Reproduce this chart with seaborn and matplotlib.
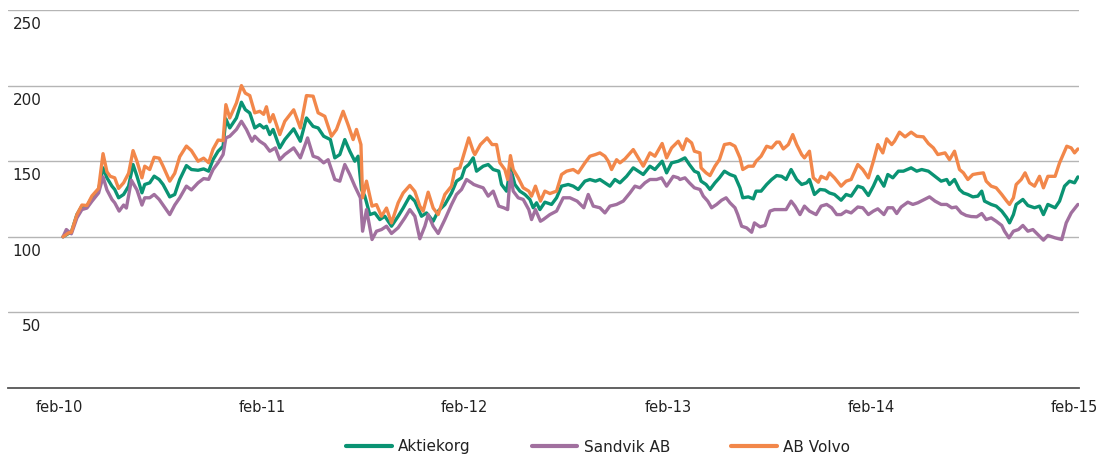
import numpy as np
import pandas as pd
import matplotlib
matplotlib.use("Agg")
import matplotlib.pyplot as plt
import seaborn as sns
from matplotlib.transforms import ScaledTranslation

START = "2010-02-01"
END = "2015-02-01"

series_names = ["Aktiekorg", "Sandvik AB", "AB Volvo"]
series_colors = ["#0A9373", "#A1709F", "#F2874A"]

# weeks since START and index values (start = 100)
volvo_weeks = [0, 1.4, 2.2, 3.5, 4.8, 6.1, 7.4, 9.1, 10.3, 11.2, 12.1, 13.3, 14.2, 15.5, 16.8, 17.9, 18.9, 20.2, 21.0, 22.3,
               23.4, 24.6, 25.7, 27.4, 28.7, 30.0, 31.7, 33.0, 34.7, 36.0, 37.3, 38.5, 39.8, 41.1, 41.7, 42.8, 44.5, 45.8, 46.7, 47.9,
               49.2, 50.5, 51.4, 52.2, 53.1,
               53.9, 55.6, 56.9, 59.1, 60.8, 62.5, 64.2, 65.5, 67.2, 68.9, 70.2, 71.9, 73.2, 74.4, 75.3, 76.4, 76.8, 77.9, 79.2, 80.4,
               81.7, 83.0, 84.3, 86.0, 87.3, 89.0, 90.3, 91.5, 92.4, 93.7, 95.0, 96.2, 98.0, 99.7, 100.5, 101.8, 103.1, 104.1, 105.2,
               105.7, 107.0, 108.7, 110.0, 111.2, 112.1, 113.4, 114.0, 114.7, 115.5, 116.8, 118.1, 119.4, 120.2, 121.1, 122.4, 123.6,
               124.9, 126.6, 127.9, 129.2, 130.9, 132.2, 133.9, 135.2, 136.5, 137.7, 139.0, 139.9, 140.7, 142.0, 142.9, 144.1, 146.3,
               147.6, 148.8, 150.6, 151.8, 153.6, 154.8, 156.1, 157.8,
               159.0, 159.9, 161.2, 162.0, 163.3, 163.7, 165.0, 165.9, 167.2, 168.4, 169.7, 171.0, 172.3, 173.6, 174.4, 175.7, 177.0,
               177.8, 179.1, 180.4, 181.7, 183.0, 183.8, 184.7, 186.0, 187.2, 188.1, 189.4, 190.2, 191.5, 192.4, 193.7, 194.5, 195.8,
               196.6, 197.9, 199.6, 200.9, 202.2, 203.9, 205.2, 206.5, 207.8, 209.0,
               210.3, 211.2, 212.5, 213.3, 214.6, 215.9, 217.6, 218.9, 220.6, 221.9, 223.2, 224.4, 226.2, 227.4, 228.7, 230.0, 230.9,
               232.1, 233.4, 234.7, 236.0, 236.8, 238.1, 239.4, 240.7, 242.0, 242.8, 243.7, 244.5, 245.8, 246.7, 247.9, 249.2, 250.5,
               251.4, 252.6, 254.4, 255.6, 257.4, 258.6, 259.5, 260.3]
volvo_values = [100, 102.6, 103, 114.7, 121, 120.7, 127, 132, 155, 143, 140, 139, 132, 135.7, 142, 157, 150, 139, 146.7, 144.5,
                152.6, 152, 146.7, 136.8, 142, 153, 160, 157, 150, 152, 149, 158, 164, 163.6, 187.4, 178.6, 188.5, 200, 195, 193.4,
                182, 183, 181, 186, 176,
                180.8, 167.6, 176.4, 184, 172, 193.4, 193, 182, 179.7, 166.5, 171, 183, 174, 164.3, 171, 161, 125.8, 136.8, 120.3, 121.3,
                113.6, 119, 109.2, 122.5, 129, 134, 130, 120.3, 117, 129.5, 119, 114.7, 128, 133.5, 144.5, 145.6, 156.6, 165.4, 156.6,
                154.4, 161, 165.4, 161, 161, 149, 144.5, 137.9, 153.7, 144.5, 139, 132.4, 130.2, 126.9, 133.5, 123.6, 130.2,
                128.6, 130.2, 141.2, 143.4, 144.5, 142.3, 148.9, 153.3, 154.4, 155.5, 153.3, 150, 144.5, 151, 148.9, 151.5, 157.7,
                152.2, 146.7, 155.5, 153.3, 161.7, 152.2, 158.8, 163.2,
                157.7, 164.8, 162.1, 156.6, 155.5, 145.6, 142.3, 140.5, 146.7, 151, 161, 161.7, 159.9, 152.2, 144.5, 146.7, 146.7,
                150, 153.3, 159.9, 158.8, 162.6, 162.6, 158.1, 161, 167.6, 161, 154.4, 152.2, 156.6, 139, 136.1, 140, 138.3,
                142.3, 139, 133.5, 136.8, 137.9, 147.8, 144.5, 139, 150, 161,
                155.5, 164.8, 161, 163.2, 169.2, 166.1, 169.2, 166.5, 166.1, 161.7, 158.8, 154.4, 155.5, 151, 156.6, 144.5, 142.3,
                137.9, 141.2, 141.8, 142.3, 136.8, 133.5, 132.4, 128, 123.6, 121.4, 125.8, 134.6, 137.9, 142.3, 135.7, 133.5, 140,
                132.4, 140, 140, 148.9, 159.9, 158.8, 155.5, 158.1]

index_weeks = [0, 1.4, 2.2, 3.5, 4.8, 6.1, 7.4, 9.1, 10.3, 11.2, 12.5, 13.3, 14.2, 15.5, 16.8, 18.0, 18.9, 20.2, 21.0, 22.3,
               23.4, 24.6, 25.7, 27.4, 28.7, 30.0, 31.7, 33.0, 34.7, 36.0, 37.3, 38.5, 39.8, 41.1, 41.7, 42.8, 44.5, 45.8, 46.7, 47.9,
               49.2, 50.5, 51.4, 52.2, 53.1,
               53.9, 55.6, 56.9, 59.1, 60.8, 62.5, 64.2, 65.5, 66.8, 68.5, 69.7, 71.0, 72.3, 73.6, 74.9, 75.7, 76.6, 77.4, 78.7, 80.0,
               81.3, 82.6, 84.3, 86.0, 87.3, 89.0, 90.3, 92.0, 93.3, 95.0, 96.2, 98.0, 99.7, 100.9, 102.2, 103.1, 104.1, 105.2,
               106.1, 107.8, 109.1, 110.4, 111.7, 112.5, 113.8, 114.8, 115.9, 117.2, 118.5, 119.8, 120.6, 121.5, 122.3, 123.6, 125.3,
               126.6, 127.9, 129.6, 130.9, 132.2, 133.9, 135.2, 136.5, 137.7, 139.0, 140.3, 141.6, 142.9, 144.6, 146.3, 147.6, 148.8,
               150.6, 151.8, 153.6, 154.8, 156.1, 157.8,
               159.5, 160.7, 162.0, 162.9, 163.7, 165.0, 165.9, 167.2, 168.4, 169.7, 171.0, 172.3, 173.6, 174.4, 175.7, 177.0, 177.8,
               179.1, 180.4, 181.7, 183.0, 184.3, 185.5, 186.8, 188.1, 189.4, 190.7, 191.5, 192.8, 194.1, 195.4, 196.6, 197.9, 199.6,
               200.9, 202.2, 203.9, 205.2, 206.5, 207.8, 209.0,
               210.6, 211.6, 212.9, 214.2, 215.5, 217.6, 218.9, 220.2, 221.9, 223.6, 225.3, 226.6, 227.4, 228.7, 230.0, 230.9, 232.1,
               233.4, 234.7, 235.6, 236.4, 238.1, 239.4, 240.7, 242.0, 242.8, 243.7, 244.5, 246.2, 247.5, 249.2, 250.5, 251.4, 252.6,
               254.4, 255.6, 256.9, 258.2, 259.5, 260.3]
index_values = [100, 102.2, 103.1, 114.7, 120.3, 120.3, 125.8, 131.3, 145.6, 139, 133.5, 131.3, 125.8, 128, 133.5, 147.8, 140.1, 129.1, 134.6, 135.7,
                140.1, 137.9, 134.6, 126.4, 128, 137.9, 147.1, 144.5, 144, 144.9, 143.4, 151.1, 156.6, 159.9, 178, 172, 178.6, 189, 184.1, 181.9,
                172, 174.2, 172, 173.1, 167.6,
                171, 158.8, 164.3, 171.4, 163.2, 178.6, 173, 172, 166.5, 164.3, 152.2, 154.4, 164.3, 156.6, 150, 153.3, 131.3, 126.9, 114.7, 115.8,
                111.4, 113.6, 107, 113.6, 119, 126.9, 123.6, 113.6, 115.8, 110.3, 117, 121.3, 129, 136.8, 139, 145.6, 147.8, 152.2,
                143.4, 146.7, 147.8, 144.5, 143.4, 134.6, 130.2, 145.6, 134.6, 130.2, 128, 124.7, 119.2, 122.5, 118, 122.9, 121.4,
                125.8, 133.5, 134.6, 133.5, 131.3, 136.8, 137.9, 136.8, 137.9, 135.7, 133.5, 137.9, 135.7, 140, 145.6, 143.4, 141.2,
                146.7, 144.5, 150, 142.3, 148.9, 150,
                152.2, 147.8, 143.4, 142.3, 136.8, 134.6, 131.3, 135.7, 139, 143.4, 141.2, 140, 132.4, 125.8, 126.4, 125.1, 130.2,
                130.2, 134.6, 137.9, 140.5, 140, 137.9, 144.5, 137.9, 134.6, 135.7, 137.9, 128, 131.3, 130.9, 129, 128, 124.2,
                128, 126.9, 133.5, 132.4, 127.3, 133.5, 140,
                133.5, 141.2, 139, 143.4, 143.4, 145.6, 143.4, 144.5, 143.4, 140, 136.8, 137.9, 134.6, 137.9, 131.3, 129, 128,
                126.4, 126.9, 130.2, 123.6, 121.4, 120.3, 117, 112.6, 109.2, 114.7, 121.4, 124.7, 120.7, 119.2, 120.3, 114.7, 121.4,
                119.2, 123.6, 133.5, 136.8, 135.7, 139.6]

sandvik_weeks = [0, 0.9, 2.2, 3.5, 4.8, 6.1, 7.4, 9.1, 10.3, 11.2, 12.5, 13.3, 14.4, 15.5, 16.3, 17.6, 18.9, 20.2, 21.0, 22.3,
                 23.4, 24.6, 25.7, 27.4, 28.7, 30.0, 31.7, 33.0, 34.7, 36.0, 37.3, 38.5, 39.8, 41.1, 41.7, 42.8, 44.5, 45.8, 47.1, 48.4,
                 49.2, 50.5, 51.8, 53.1,
                 54.4, 55.6, 56.9, 59.1, 60.8, 62.7, 64.2, 65.5, 66.8, 68.0, 69.7, 71.0, 72.3, 73.6, 74.9, 76.2, 76.8, 77.9, 79.2, 80.4,
                 81.7, 83.0, 84.3, 86.0, 87.7, 89.0, 90.3, 91.5, 92.8, 93.7, 95.0, 96.2, 98.0, 99.7, 100.9, 102.2, 103.5, 104.8,
                 105.3, 106.5, 107.8, 109.1, 110.4, 111.7, 113.0, 114.0, 114.7, 115.5, 116.8, 118.1, 119.4, 120.2, 121.1, 122.4, 123.2,
                 124.9, 126.6, 128.3, 130.0, 131.8, 133.5, 134.7, 136.0, 137.7, 139.0, 140.3, 142.0, 143.7, 145.4, 146.7, 148.0, 149.3,
                 150.6, 152.3, 153.5, 154.8, 156.5, 157.8,
                 158.2, 159.5, 160.7, 162.0, 163.3, 164.2, 165.4, 166.3, 167.6, 168.9, 170.1, 171.0, 172.3, 173.1, 174.0, 175.3, 176.6,
                 177.4, 178.7, 180.0, 181.3, 182.5, 184.3, 185.5, 186.8, 187.7, 189.0, 190.2, 191.5, 193.2, 194.5, 195.8, 197.1, 198.4,
                 199.6, 200.9, 202.2, 203.9, 205.2, 206.5, 207.8, 209.0,
                 210.6, 211.6, 212.9, 213.8, 215.0, 216.7, 218.0, 219.3, 221.0, 222.3, 223.6, 225.3, 226.6, 227.9, 229.1, 230.4, 231.7,
                 233.0, 234.3, 235.6, 236.8, 238.1, 239.4, 240.7, 241.5, 242.6, 243.7, 245.0, 246.2, 247.5, 248.8, 250.1, 251.4, 252.6,
                 254.4, 256.1, 257.3, 258.6, 260.3]
sandvik_values = [100, 104.8, 102, 112.5, 118, 119, 123.5, 129, 139.6, 131, 124.7, 122.5, 117, 121, 119, 137.4, 131, 121, 125.8, 125.8,
                  128, 124.7, 121, 114.7, 121, 125.8, 133.5, 131, 135.7, 138.5, 138, 144.5, 149, 154.4, 165.4, 166.5, 171, 176.4, 171, 163.2,
                  166.5, 163.2, 161, 156.6,
                  158.8, 151, 154.4, 158.8, 152.2, 165.4, 153.3, 152.2, 148.9, 151, 137.9, 136.8, 147.8, 141.2, 133.5, 125.8, 103.7, 118, 98.2, 103.7,
                  104.8, 107, 102.2, 106, 112.5, 118, 113.6, 98.7, 107, 114.7, 107, 102.2, 111.4, 121.3, 128, 131.3, 137.9, 135.7,
                  134.6, 133.5, 132.4, 126.9, 130.2, 120.3, 119.2, 118, 142.3, 130.2, 125.8, 124.7, 118, 111.4, 118, 110.3, 111.4,
                  114.7, 117, 125.8, 125.8, 123.6, 119.2, 128, 120.3, 119.2, 115.8, 120.3, 121.4, 123.6, 129, 133.5, 132.4, 135.7,
                  137.9, 137.9, 139, 133.5, 140, 139,
                  137.9, 139, 135.7, 132.4, 131.3, 126.9, 123.6, 119.2, 121.4, 124.2, 125.8, 122.5, 119.2, 114.7, 107, 105.9, 103,
                  109.2, 106.6, 107.5, 117, 118, 118, 118, 123.6, 120.3, 114.7, 120.3, 117, 114.7, 120.3, 121.4, 119.2, 114.7,
                  114.7, 117, 115.8, 119.7, 119.2, 114.7, 117, 118.5,
                  114.7, 119.2, 119.2, 115.4, 119.7, 122.9, 121.4, 122.5, 124.7, 126.4, 123.6, 121.4, 121.4, 119.2, 119.7, 115.8, 114.1,
                  113.4, 113.2, 115.4, 111.4, 112.5, 110.3, 107.5, 103.7, 99.3, 103.7, 104.8, 107.5, 103.7, 104.8, 101.5, 97.8, 100.9,
                  99.3, 98.2, 109.2, 115.8, 121.4]

y_ticks = [50, 100, 150, 200, 250]
x_tick_labels = ["feb-10", "feb-11", "feb-12", "feb-13", "feb-14", "feb-15"]

start = pd.Timestamp(START)


def to_frame(name, weeks, values):
    days = np.round(np.asarray(weeks) * 7.0 * 1826 / (260.3 * 7))
    return pd.DataFrame({"date": start + pd.to_timedelta(days, unit="D"),
                         "value": values, "series": name})


df = pd.concat([to_frame("Aktiekorg", index_weeks, index_values),
                to_frame("Sandvik AB", sandvik_weeks, sandvik_values),
                to_frame("AB Volvo", volvo_weeks, volvo_values)], ignore_index=True)

sns.set_theme(style="white")
plt.rcParams["font.family"] = ["DejaVu Sans"]

fig = plt.figure(figsize=(10.99, 4.57), dpi=100)
ax = fig.add_axes([8 / 1099, 1 - 388 / 457, (1079 - 8) / 1099, (388 - 10) / 457])

palette = dict(zip(series_names, series_colors))
sns.lineplot(data=df, x="date", y="value", hue="series", hue_order=series_names,
             palette=palette, linewidth=2.4, ax=ax, legend=True)

ax.set_ylim(0, 250)
ax.set_xlim(start - pd.Timedelta(days=99), pd.Timestamp(END) + pd.Timedelta(days=2))
ax.set_xlabel("")
ax.set_ylabel("")

ax.set_yticks(y_ticks)
ax.set_yticklabels([str(v) for v in y_ticks])
ax.yaxis.grid(True, color="#b5b5b5", linewidth=1.0)
ax.xaxis.grid(False)
ax.set_axisbelow(True)

tick_dates = pd.date_range(START, END, freq="12MS")
ax.set_xticks(tick_dates)
ax.set_xticklabels(x_tick_labels)

for s in ["left", "right", "top"]:
    ax.spines[s].set_visible(False)
ax.spines["bottom"].set_color("#555555")
ax.spines["bottom"].set_linewidth(1.3)

ax.tick_params(axis="x", length=0, pad=9, labelsize=10.5, colors="#222222")
ax.tick_params(axis="y", length=0, pad=-24, labelsize=11, colors="#222222")

xoff = ScaledTranslation(-4 / 100, 0, fig.dpi_scale_trans)
for lab in ax.get_xticklabels():
    lab.set_transform(lab.get_transform() + xoff)

yoff = ScaledTranslation(0, -7 / 100, fig.dpi_scale_trans)
for lab in ax.get_yticklabels():
    lab.set_horizontalalignment("right")
    lab.set_verticalalignment("top")
    lab.set_transform(lab.get_transform() + yoff)

handles, labels = ax.get_legend_handles_labels()
ax.legend_.remove()
leg = fig.legend(handles, labels, loc="center", bbox_to_anchor=(598 / 1099, 1 - 447 / 457),
                 ncol=3, frameon=False, fontsize=11, handlelength=3.0, handletextpad=0.4,
                 columnspacing=4.0, borderpad=0, borderaxespad=0)
for line in leg.get_lines():
    line.set_linewidth(3.0)
for t in leg.get_texts():
    t.set_color("#222222")

fig.savefig("out.png", dpi=100)
